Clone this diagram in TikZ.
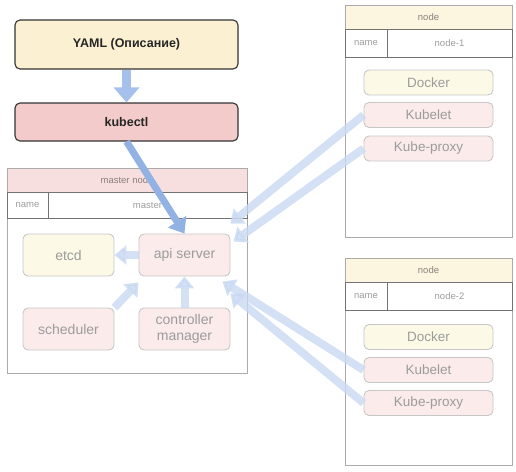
\documentclass[tikz,border=0pt]{standalone}
\usepackage{fontspec}
\setmainfont{Liberation Sans}
\usetikzlibrary{arrows.meta}
\definecolor{yamlfill}{HTML}{FBF0D2}
\definecolor{kubefill}{HTML}{F3CBCB}
\definecolor{palered}{HTML}{FBEBEB}
\definecolor{paleyellow}{HTML}{FCF9E6}
\definecolor{headred}{HTML}{F7DFDF}
\definecolor{headyellow}{HTML}{FCF5E0}
\definecolor{flow}{HTML}{A5C0EA}
\definecolor{deepflow}{HTML}{92B2E4}
\definecolor{softflow}{HTML}{C9D9F2}
\definecolor{framegray}{HTML}{ABABAB}
\definecolor{textgray}{HTML}{9C9C9C}
\definecolor{headtext}{HTML}{8C7E7E}
\begin{document}
\begin{tikzpicture}[x=1pt,y=-1pt,
  mainbox/.style={draw=black!80,line width=1.1pt,rounded corners=5pt,minimum width=223pt,
    font=\bfseries\fontsize{12.5}{14}\selectfont,text=black!85},
  part/.style={draw=black!22,line width=0.9pt,rounded corners=5pt,fill=palered,text=textgray,
    minimum width=91pt,minimum height=42pt,align=center,font=\fontsize{14}{16}\selectfont},
  agent/.style={part,minimum width=129pt,minimum height=25pt,font=\fontsize{13.5}{15}\selectfont},
  frame/.style={draw=framegray,line width=0.8pt,inner sep=0pt},
  headrow/.style={frame,minimum height=24pt,text=headtext,font=\fontsize{9.5}{11}\selectfont},
  cell/.style={draw=black!55,line width=0.8pt,inner sep=0pt,text=textgray,font=\fontsize{9.5}{11}\selectfont},
  flowarrow/.style={flow,line width=9pt,-{Triangle[width=25pt,length=15pt]}},
  softarrow/.style={softflow,opacity=0.8,line width=8pt,-{Triangle[width=19pt,length=12pt]}}]
  \useasboundingbox (0,0) rectangle (516,471);
  % client side
  \node[mainbox,fill=yamlfill,minimum height=49pt] (yaml) at (126.5,44.5) {YAML (Описание)};
  \node[mainbox,fill=kubefill,minimum height=38pt] (kubectl) at (126.5,122) {kubectl};
  % master node
  \node[frame,minimum width=240pt,minimum height=205pt] (master) at (127,270.5) {};
  \node[headrow,fill=headred,minimum width=240pt] (masterhead) at (127,180) {master node};
  \node[cell,minimum width=41pt,minimum height=26pt] (mastername) at (27.5,205) {name};
  \node[cell,minimum width=199pt,minimum height=26pt] (mastervalue) at (147.5,205) {master};
  \node[part,fill=paleyellow] (etcd) at (68.5,255) {etcd};
  \node[part] (api) at (184.5,255) {api server};
  \node[part] (scheduler) at (68.5,329) {scheduler};
  \node[part] (controller) at (184.5,329) {controller\\manager};
  % worker nodes
  \node[frame,minimum width=167pt,minimum height=232pt] (node1) at (428.5,121) {};
  \node[headrow,fill=headyellow,minimum width=167pt] (node1head) at (428.5,17) {node};
  \node[cell,minimum width=42pt,minimum height=28pt] (node1name) at (366,43) {name};
  \node[cell,minimum width=125pt,minimum height=28pt] (node1value) at (449.5,43) {node-1};
  \node[agent,fill=paleyellow] (docker1) at (428.5,82.5) {Docker};
  \node[agent] (kubelet1) at (428.5,115) {Kubelet};
  \node[agent] (proxy1) at (428.5,148.5) {Kube-proxy};
  \node[frame,minimum width=167pt,minimum height=207pt] (node2) at (428.5,361.5) {};
  \node[headrow,fill=headyellow,minimum width=167pt] (node2head) at (428.5,270) {node};
  \node[cell,minimum width=42pt,minimum height=28pt] (node2name) at (366,296) {name};
  \node[cell,minimum width=125pt,minimum height=28pt] (node2value) at (449.5,296) {node-2};
  \node[agent,fill=paleyellow] (docker2) at (428.5,337) {Docker};
  \node[agent] (kubelet2) at (428.5,370) {Kubelet};
  \node[agent] (proxy2) at (428.5,403) {Kube-proxy};
  % arrows
  \draw[softarrow] (api.west) -- (etcd.east);
  \draw[softarrow] (scheduler.north east) -- ([yshift=-6pt]api.south west);
  \draw[softarrow] (controller.north) -- (api.south);
  \draw[softarrow] (kubelet1.west) -- ([yshift=10pt]api.north east);
  \draw[softarrow] (proxy1.west) -- ([shift={(3pt,-8pt)}]api.north east);
  \draw[softarrow] (kubelet2.west) -- ([shift={(-8pt,-5pt)}]api.south east);
  \draw[softarrow] (proxy2.west) -- ([yshift=-17pt]api.south east);
  \draw[flowarrow] (yaml) -- (kubectl);
  \draw[flowarrow,deepflow,line width=7pt,-{Triangle[width=21pt,length=14pt]}] (kubectl.south) -- (api.north);
\end{tikzpicture}
\end{document}
